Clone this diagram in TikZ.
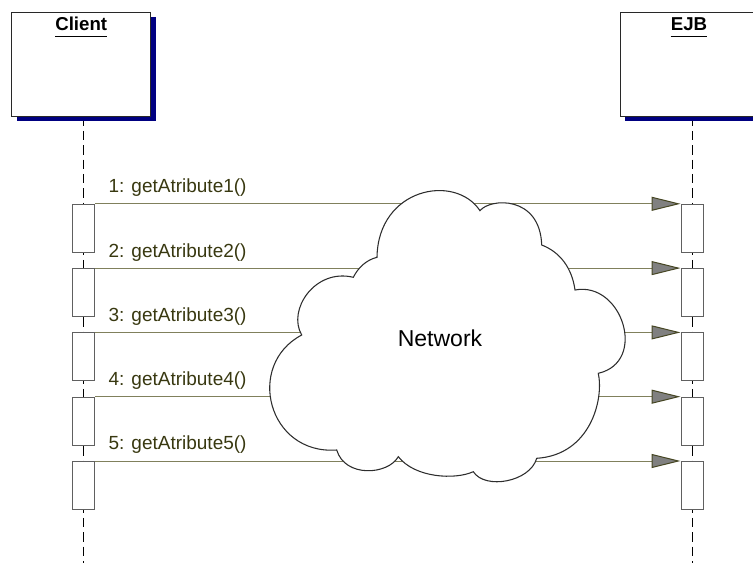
\documentclass[tikz,border=0pt]{standalone}
\usepackage{fontspec}
\setmainfont{Liberation Sans}
\usetikzlibrary{arrows.meta,shadows,backgrounds}

\definecolor{shadownavy}{RGB}{0,0,128}
\definecolor{msgline}{RGB}{128,128,92}
\definecolor{msgtext}{RGB}{56,56,16}
\definecolor{tipfill}{RGB}{128,128,128}
\definecolor{tipedge}{RGB}{70,70,35}
\definecolor{boxedge}{RGB}{40,40,40}
\definecolor{actedge}{RGB}{96,96,96}
\definecolor{cloudedge}{RGB}{45,45,45}

\begin{document}
\begin{tikzpicture}[x=0.75pt,y=-0.75pt,
  header/.style={draw=boxedge, line width=0.75pt, fill=white,
    minimum width=104.25pt, minimum height=77.8pt, inner sep=0pt,
    drop shadow={shadow xshift=3.75pt, shadow yshift=-3.75pt,
      fill=shadownavy, opacity=1}},
  headlabel/.style={font=\fontsize{14pt}{16pt}\selectfont\bfseries,
    inner sep=0pt, anchor=base},
  headrule/.style={line width=0.75pt, black},
  lifeline/.style={draw=black, line width=0.75pt,
    dash pattern=on 7pt off 3.75pt},
  activation/.style={draw=actedge, fill=white, line width=0.75pt,
    minimum width=16.8pt, minimum height=36pt, inner sep=0pt},
  message/.style={draw=msgline, line width=0.75pt,
    -{Triangle[length=21.75pt, width=10.5pt, fill=tipfill, color=tipedge]}},
  msglabel/.style={font=\fontsize{14.25pt}{16pt}\selectfont, text=msgtext,
    inner sep=0pt, anchor=base west},
  cloud/.style={draw=cloudedge, fill=white, line width=0.8pt},
  cloudlabel/.style={font=\fontsize{17.25pt}{20pt}\selectfont,
    inner sep=0pt, anchor=base}
]
\useasboundingbox (0,0) rectangle (753,563);
\clip (0,0) rectangle (753,563);

% object headers
\node[header] (client) at (81.2,64.15) {};
\node[header] (ejb) at (689.5,64.15) {};
\node[headlabel] (clientlbl) at (81.2,30.7) {Client};
\node[headlabel] (ejblbl) at (689,30.7) {EJB};
\draw[headrule] ([yshift=-4pt]clientlbl.base west) -- ([yshift=-4pt]clientlbl.base east);
\draw[headrule] ([yshift=-4pt]ejblbl.base west) -- ([yshift=-4pt]ejblbl.base east);

% lifeline ends
\coordinate (cend) at (83.3,563);
\coordinate (eend) at (692.2,563);

% activations and messages
\foreach \i/\y in {1/204.3, 2/268.6, 3/332.9, 4/397.2, 5/461.5} {
  \node[activation] (c\i) at (83.5,\y+24) {};
  \node[activation] (e\i) at (692.2,\y+24) {};
  \node[msglabel] (l\i) at (108.3,\y-11.6) {\i: getAtribute\i()};
  \draw[message] (c\i.north east) -- (e\i.north west);
}

\begin{scope}[on background layer]
  \draw[lifeline] (client.south -| cend) -- (cend);
  \draw[lifeline] (ejb.south -| eend) -- (eend);
\end{scope}

% network cloud
\draw[cloud] (377,257.3)
  .. controls (378,188) and (455,173) .. (480,210.7)
  .. controls (490,198) and (540,195) .. (541.7,245)
  .. controls (560,252) and (572,268) .. (575,290)
  .. controls (622,281) and (648,362) .. (598.3,373.3)
  .. controls (604,400) and (590,455) .. (536.7,458.3)
  .. controls (530,482) and (485,490) .. (473.3,471.7)
  .. controls (455,480) and (415,478) .. (398.3,456.7)
  .. controls (388,475) and (345,478) .. (336.7,450)
  .. controls (268,455) and (245,365) .. (301.7,335)
  .. controls (287,310) and (315,268) .. (353.3,277.3)
  .. controls (358,268) and (366,260) .. cycle;
\node[cloudlabel] (net) at (440,346.7) {Network};
\end{tikzpicture}
\end{document}
